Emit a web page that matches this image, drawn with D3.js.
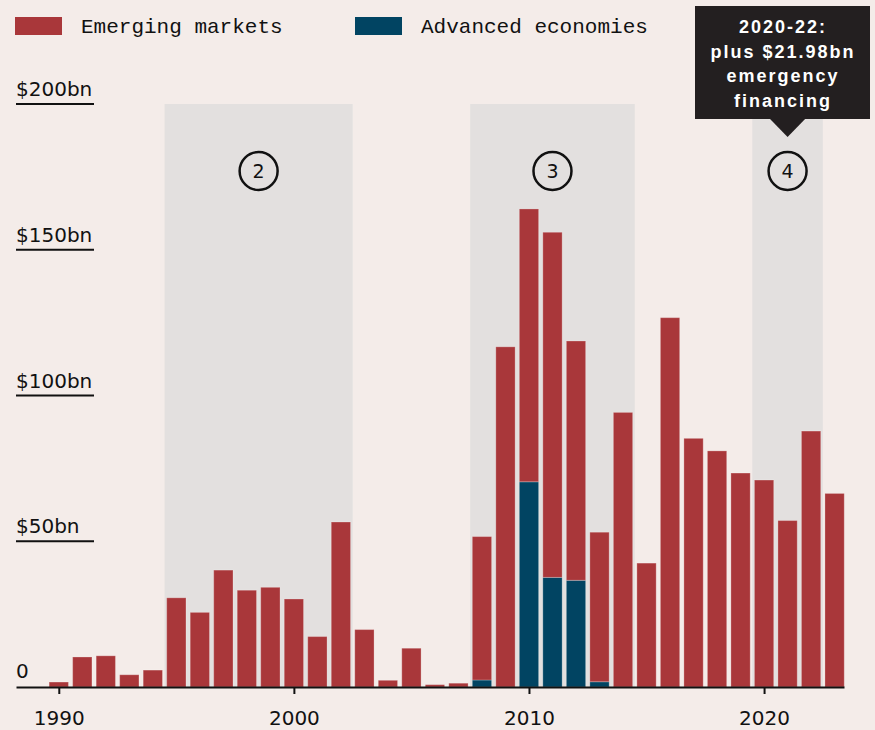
<!DOCTYPE html>
<html>
<head>
<meta charset="utf-8">
<script src="https://cdn.jsdelivr.net/npm/d3@7"></script>
<style>
  html, body { margin: 0; padding: 0; background: #f4ece9; }
  svg { display: block; }
</style>
</head>
<body>
<div id="chart"></div>
<script>
// Data (US$ bn)
const years = d3.range(1990, 2024);
const emerging = [1.7, 10.3, 10.7, 4.2, 5.8, 30.6, 25.6, 40.1, 33.2, 34.2,
                  30.2, 17.3, 56.6, 19.7, 2.3, 13.3, 0.8, 1.3, 49.2, 116.7,
                  93.6, 118.4, 82.1, 51.3, 94.2, 42.5, 126.7, 85.3, 81.0, 73.4,
                  71.0, 57.1, 87.8, 66.4];
const advanced = [0, 0, 0, 0, 0, 0, 0, 0, 0, 0,
                  0, 0, 0, 0, 0, 0, 0, 0, 2.4, 0,
                  70.4, 37.6, 36.6, 1.8, 0, 0, 0, 0, 0, 0,
                  0, 0, 0, 0];
const yTicks = [50, 100, 150, 200];
const xTicks = [1990, 2000, 2010, 2020];
const periods = [
  { label: "2", from: 1995, to: 2002 },
  { label: "3", from: 2008, to: 2014 },
  { label: "4", from: 2020, to: 2022 }
];
const seriesNames = ["Emerging markets", "Advanced economies"];
const noteLines = ["2020-22:", "plus $21.98bn", "emergency", "financing"];

const colors = { emerging: "#a9373a", advanced: "#014462", shade: "#e3e0df", ink: "#111" };
const W = 875, H = 730;

const svg = d3.select("#chart").append("svg")
  .attr("width", W).attr("height", H);
svg.append("rect").attr("width", W).attr("height", H).attr("fill", "#f4ece9");

const x = d3.scaleLinear().domain([1988.18, 2023.4]).range([16, 844]);
const y = d3.scaleLinear().domain([0, 200]).range([687, 104]);
const barW = 19.3;

// shaded periods
const shade = svg.append("g");
periods.forEach(p => {
  shade.append("rect")
    .attr("x", x(p.from - 0.5))
    .attr("y", y(200))
    .attr("width", x(p.to + 0.5) - x(p.from - 0.5))
    .attr("height", y(0) - y(200))
    .attr("fill", colors.shade);
  const cx = (x(p.from - 0.5) + x(p.to + 0.5)) / 2;
  shade.append("circle")
    .attr("cx", cx).attr("cy", y(177))
    .attr("r", 19)
    .attr("fill", "none").attr("stroke", colors.ink).attr("stroke-width", 2.5);
  shade.append("text")
    .attr("x", cx).attr("y", y(177) + 7)
    .attr("text-anchor", "middle")
    .style("font-family", "DejaVu Sans")
    .style("font-size", "19px")
    .style("fill", colors.ink)
    .text(p.label);
});

// y gridline stubs and labels
const yg = svg.append("g");
yTicks.forEach(v => {
  yg.append("line")
    .attr("x1", 16).attr("x2", 94)
    .attr("y1", y(v)).attr("y2", y(v))
    .attr("stroke", colors.ink).attr("stroke-width", 2);
  yg.append("text")
    .attr("x", 16).attr("y", y(v) - 8)
    .style("font-family", "DejaVu Sans")
    .style("font-size", "20px")
    .style("fill", colors.ink)
    .text("$" + v + "bn");
});
yg.append("text")
  .attr("x", 16).attr("y", y(0) - 9)
  .style("font-family", "DejaVu Sans")
  .style("font-size", "20px")
  .style("fill", colors.ink)
  .text("0");

// stacked bars
const bars = svg.append("g");
years.forEach((yr, i) => {
  const a = advanced[i], e = emerging[i];
  if (a > 0) {
    bars.append("rect")
      .attr("x", x(yr) - barW / 2).attr("width", barW)
      .attr("y", y(a)).attr("height", y(0) - y(a))
      .attr("fill", colors.advanced)
      .attr("stroke", "rgba(255,255,255,0.25)").attr("stroke-width", 1);
  }
  bars.append("rect")
    .attr("x", x(yr) - barW / 2).attr("width", barW)
    .attr("y", y(a + e)).attr("height", y(a) - y(a + e))
    .attr("fill", colors.emerging)
    .attr("stroke", "rgba(255,255,255,0.25)").attr("stroke-width", 1);
});

// x axis
const xAxis = d3.axisBottom(x).tickValues(xTicks).tickSize(7).tickSizeOuter(0).tickFormat(d3.format("d"));
const ax = svg.append("g").attr("transform", `translate(0,${y(0)})`).call(xAxis);
ax.select(".domain").attr("stroke", colors.ink).attr("stroke-width", 2);
ax.selectAll(".tick line").attr("stroke", colors.ink).attr("stroke-width", 2);
ax.selectAll(".tick text")
  .attr("y", 38).attr("dy", 0)
  .style("font-family", "DejaVu Sans")
  .style("font-size", "20px")
  .style("fill", colors.ink);

// legend
const lg = svg.append("g");
[[15, colors.emerging, seriesNames[0], 81], [355, colors.advanced, seriesNames[1], 421]].forEach(d => {
  lg.append("rect").attr("x", d[0]).attr("y", 17).attr("width", 47).attr("height", 18).attr("fill", d[1]);
  lg.append("text")
    .attr("x", d[3]).attr("y", 33)
    .style("font-family", "Liberation Mono")
    .style("font-size", "21px")
    .style("fill", colors.ink)
    .text(d[2]);
});

// note box
const nx = x(2021);
const note = svg.append("g");
note.append("rect").attr("x", 695).attr("y", 6).attr("width", 175).attr("height", 113).attr("fill", "#231f20");
note.append("path")
  .attr("d", `M${nx - 18.5},118 L${nx + 18.5},118 L${nx},137 Z`)
  .attr("fill", "#231f20");
noteLines.forEach((t, i) => {
  note.append("text")
    .attr("x", 783).attr("y", 33 + i * 24.5)
    .attr("text-anchor", "middle")
    .style("font-family", "Liberation Sans")
    .style("font-weight", "bold")
    .style("font-size", "18px")
    .style("letter-spacing", "2px")
    .style("fill", "#fff")
    .text(t);
});
</script>
</body>
</html>
